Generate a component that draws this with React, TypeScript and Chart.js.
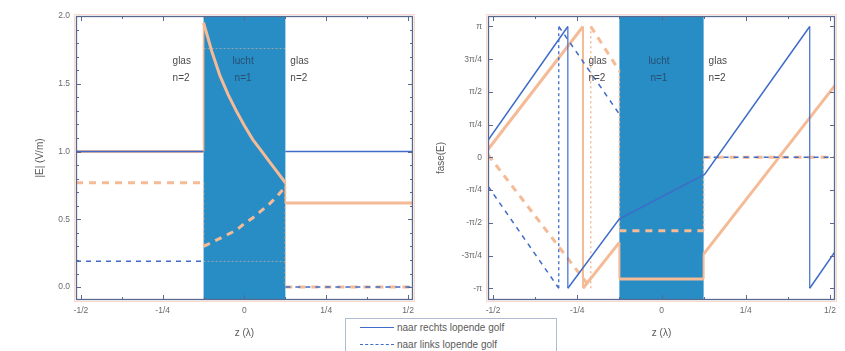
import React, { useEffect, useRef } from "react";
import { Chart, registerables } from "chart.js";

Chart.register(...registerables);

const FONT = "'Liberation Sans', Arial, sans-serif";

// ---- shared z axis (in wavelengths) ----
const zRange = [-0.515, 0.515];
const zTickValues = [-0.5, -0.25, 0, 0.25, 0.5];
const zTickLabels = ["-1/2", "-1/4", "0", "1/4", "1/2"];
const zMinorTicks = [-0.375, -0.125, 0.125, 0.375];
const airRegion = [-0.125, 0.125];

// ---- left panel: |E| (V/m) ----
const ampRange = [-0.095, 2.0];
const ampTickValues = [0, 0.5, 1, 1.5, 2];
const ampTickLabels = ["0.0", "0.5", "1.0", "1.5", "2.0"];
const ampMinorTicks = [0.1, 0.2, 0.3, 0.4, 0.6, 0.7, 0.8, 0.9, 1.1, 1.2, 1.3, 1.4, 1.6, 1.7, 1.8, 1.9];

const ampBlueRightZ = [-0.515, -0.125, null, 0.125, 0.515];
const ampBlueRightV = [1.0, 1.0, null, 1.0, 1.0];
const ampBlueLeftZ = [-0.515, -0.125, null, 0.125, 0.515];
const ampBlueLeftV = [0.19, 0.19, null, 0.0, 0.0];
const ampBlueAirZ = [-0.125, 0.125];
const ampBlueAirRightV = [1.76, 1.76];
const ampBlueAirLeftV = [0.19, 0.19];

const ampOrangeRightZ = [-0.515, -0.125, -0.125, -0.1, -0.075, -0.05, -0.025, 0, 0.025, 0.05, 0.075, 0.1, 0.125, 0.125, 0.515];
const ampOrangeRightV = [1.0, 1.0, 1.95, 1.74, 1.56, 1.42, 1.3, 1.19, 1.09, 1.01, 0.93, 0.85, 0.77, 0.62, 0.62];
const ampOrangeLeftZ = [-0.515, -0.125, -0.125, -0.1, -0.075, -0.05, -0.025, 0, 0.025, 0.05, 0.075, 0.1, 0.125, 0.125, 0.515];
const ampOrangeLeftV = [0.77, 0.77, 0.3, 0.33, 0.36, 0.39, 0.42, 0.47, 0.51, 0.56, 0.61, 0.67, 0.74, 0.0, 0.0];

// ---- right panel: fase(E) in units of π ----
const phRange = [-1.09, 1.08];
const phTickValues = [-1, -0.75, -0.5, -0.25, 0, 0.25, 0.5, 0.75, 1];
const phTickLabels = ["-π", "-3π/4", "-π/2", "-π/4", "0", "π/4", "π/2", "3π/4", "π"];
const phMinorTicks: number[] = [];

const phBlueRightZ = [-0.515, -0.278, -0.278, -0.125, 0.128, 0.44, 0.44, 0.515];
const phBlueRightV = [0.13, 1.0, -1.0, -0.47, -0.13, 1.0, -1.0, -0.72];
const phBlueLeftZ = [-0.515, -0.305, -0.305, -0.125, null, 0.125, 0.515];
const phBlueLeftV = [-0.22, -1.0, 1.0, 0.33, null, 0.0, 0.0];

const phOrangeRightZ = [-0.515, -0.233, -0.233, -0.125, -0.125, 0.125, 0.125, 0.515];
const phOrangeRightV = [0.06, 1.0, -1.0, -0.65, -0.93, -0.93, -0.74, 0.55];
const phOrangeLeftZ = [-0.515, -0.21, -0.21, -0.125, -0.125, 0.125, 0.125, 0.515];
const phOrangeLeftV = [0.02, -1.0, 1.0, 0.66, -0.56, -0.56, 0.0, 0.0];

// ---- texts ----
const regionGlass = ["glas", "n=2"];
const regionAir = ["lucht", "n=1"];
const legendLabels = ["naar rechts lopende golf", "naar links lopende golf"];

const BLUE = "rgb(62,108,200)";
const ORANGE = "rgb(245,186,150)";
const FILL = "rgb(40,141,196)";
const FRAME = "rgb(88,104,142)";
const TEXT = "#5a5a5a";

type P = { x: number; y: number | null };

// Split a polyline into its sloped/horizontal parts and its vertical jumps
function split(z: (number | null)[], v: (number | null)[]) {
  const main: P[] = [];
  const jumps: P[] = [];
  for (let i = 0; i < z.length; i++) {
    const x = z[i];
    const y = v[i];
    if (x == null || y == null) {
      main.push({ x: 0, y: null });
      continue;
    }
    main.push({ x, y });
    const nx = z[i + 1];
    const ny = v[i + 1];
    if (nx != null && ny != null && nx === x) {
      main.push({ x, y: null });
      jumps.push({ x, y }, { x, y: ny }, { x, y: null });
    }
  }
  return { main, jumps };
}

function line(data: any, color: string, width: number, dash: number[] = []) {
  return {
    data,
    borderColor: color,
    borderWidth: width,
    borderDash: dash,
    pointRadius: 0,
    tension: 0,
    spanGaps: false,
    fill: false,
  };
}

function series(z: (number | null)[], v: (number | null)[], color: string, width: number, jumpWidth: number, dash: number[], jumpDash: number[]) {
  const s = split(z, v);
  return [line(s.main, color, width, dash), line(s.jumps, color, jumpWidth, jumpDash)];
}

function decoPlugin(minorX: number[], minorY: number[]) {
  return {
    id: "deco",
    beforeDatasetsDraw(chart: any) {
      const { ctx, chartArea: a, scales } = chart;
      const x0 = scales.x.getPixelForValue(airRegion[0]);
      const x1 = scales.x.getPixelForValue(airRegion[1]);
      ctx.save();
      ctx.fillStyle = FILL;
      ctx.fillRect(x0, a.top, x1 - x0, a.bottom - a.top);
      ctx.restore();
    },
    afterDatasetsDraw(chart: any) {
      const { ctx, chartArea: a, scales } = chart;
      const xs = scales.x;
      const ys = scales.y;
      ctx.save();
      ctx.strokeStyle = "rgba(240,170,140,0.45)";
      ctx.lineWidth = 1;
      ctx.strokeRect(a.left - 1.5, a.top - 1.5, a.right - a.left + 3, a.bottom - a.top + 3);
      ctx.strokeStyle = FRAME;
      ctx.lineWidth = 1.3;
      ctx.strokeRect(a.left + 0.5, a.top + 0.5, a.right - a.left - 1, a.bottom - a.top - 1);
      ctx.lineWidth = 1;
      const tickX = (v: number, len: number) => {
        const p = Math.round(xs.getPixelForValue(v)) + 0.5;
        ctx.beginPath();
        ctx.moveTo(p, a.bottom);
        ctx.lineTo(p, a.bottom - len);
        ctx.moveTo(p, a.top);
        ctx.lineTo(p, a.top + len);
        ctx.stroke();
      };
      const tickY = (v: number, len: number) => {
        const p = Math.round(ys.getPixelForValue(v)) + 0.5;
        ctx.beginPath();
        ctx.moveTo(a.left, p);
        ctx.lineTo(a.left + len, p);
        ctx.moveTo(a.right, p);
        ctx.lineTo(a.right - len, p);
        ctx.stroke();
      };
      xs.ticks.forEach((t: any) => tickX(t.value, 5));
      minorX.forEach((v) => tickX(v, 3));
      ys.ticks.forEach((t: any) => tickY(t.value, 5));
      minorY.forEach((v) => tickY(v, 3));
      const xa = xs.getPixelForValue(airRegion[0]);
      const xb = xs.getPixelForValue(airRegion[1]);
      ctx.font = `10px ${FONT}`;
      ctx.textBaseline = "middle";
      ctx.textAlign = "left";
      const y1 = a.top + 45;
      const y2 = a.top + 62;
      ctx.fillStyle = "#4a4a4a";
      ctx.fillText(regionGlass[0], xa - 31, y1);
      ctx.fillText(regionGlass[1], xa - 31, y2);
      ctx.fillText(regionGlass[0], xb + 5, y1);
      ctx.fillText(regionGlass[1], xb + 5, y2);
      ctx.fillStyle = "rgba(40,62,95,0.8)";
      ctx.fillText(regionAir[0], xa + 29, y1);
      ctx.fillText(regionAir[1], xa + 31, y2);
      ctx.restore();
    },
  };
}

type PanelProps = {
  left: number;
  width: number;
  yWidth: number;
  padRight: number;
  yRange: number[];
  yTicks: number[];
  yLabels: string[];
  yMinor: number[];
  yTitle: string;
  yTitlePad: number;
  datasets: any[];
};

function Panel(p: PanelProps) {
  const ref = useRef<HTMLCanvasElement>(null);
  useEffect(() => {
    if (!ref.current) return;
    const tickFont = { size: 8.5, family: FONT };
    const chart = new Chart(ref.current, {
      type: "line",
      data: { datasets: p.datasets },
      options: {
        animation: false,
        responsive: false,
        devicePixelRatio: 1,
        layout: { padding: { left: 0, top: 16, right: p.padRight, bottom: 0 } },
        plugins: { legend: { display: false }, tooltip: { enabled: false } },
        scales: {
          x: {
            type: "linear",
            min: zRange[0],
            max: zRange[1],
            grid: { display: false, drawTicks: false },
            border: { display: false },
            afterBuildTicks: (s: any) => {
              s.ticks = zTickValues.map((v) => ({ value: v }));
            },
            afterFit: (s: any) => {
              s.height = 51;
            },
            ticks: {
              autoSkip: false,
              maxRotation: 0,
              padding: 6,
              color: "#6a6a6a",
              font: tickFont,
              callback: (v: any) => {
                const i = zTickValues.indexOf(Number(v));
                return i >= 0 ? zTickLabels[i] : "";
              },
            },
            title: {
              display: true,
              text: "z (λ)",
              color: TEXT,
              font: { size: 10, family: FONT },
              padding: { top: 0, bottom: 12 },
            },
          },
          y: {
            type: "linear",
            min: p.yRange[0],
            max: p.yRange[1],
            grid: { display: false, drawTicks: false },
            border: { display: false },
            afterBuildTicks: (s: any) => {
              s.ticks = p.yTicks.map((v) => ({ value: v }));
            },
            afterFit: (s: any) => {
              s.width = p.yWidth;
            },
            ticks: {
              autoSkip: false,
              padding: 6,
              color: "#6a6a6a",
              font: tickFont,
              callback: (v: any) => {
                const i = p.yTicks.indexOf(Number(v));
                return i >= 0 ? p.yLabels[i] : "";
              },
            },
            title: {
              display: true,
              text: p.yTitle,
              color: TEXT,
              font: { size: 10, family: FONT },
              padding: { top: p.yTitlePad, bottom: 0 },
            },
          },
        },
      },
      plugins: [decoPlugin(zMinorTicks, p.yMinor)],
    } as any);
    return () => chart.destroy();
  }, []);
  return (
    <canvas
      ref={ref}
      width={p.width}
      height={351}
      style={{ position: "absolute", left: p.left, top: 0, width: p.width, height: 351, display: "block" }}
    />
  );
}

export default function App() {
  const ampDatasets = [
    ...series(ampBlueRightZ, ampBlueRightV, BLUE, 1.5, 1.2, [], []),
    ...series(ampBlueLeftZ, ampBlueLeftV, BLUE, 1.5, 1.2, [5, 5], [3, 3]),
    line(ampBlueAirZ.map((x, i) => ({ x, y: ampBlueAirRightV[i] })), "rgba(250,190,160,0.55)", 1, [2, 2]),
    line(ampBlueAirZ.map((x, i) => ({ x, y: ampBlueAirLeftV[i] })), "rgba(250,190,160,0.55)", 1, [2, 2]),
    ...series(ampOrangeRightZ, ampOrangeRightV, ORANGE, 3, 1.6, [], []),
    ...series(ampOrangeLeftZ, ampOrangeLeftV, ORANGE, 3, 1.4, [7, 6], [2, 3]),
  ];
  const phDatasets = [
    ...series(phBlueRightZ, phBlueRightV, BLUE, 1.5, 1.2, [], []),
    ...series(phBlueLeftZ, phBlueLeftV, BLUE, 1.5, 1.3, [5, 5], [3, 3]),
    ...series(phOrangeRightZ, phOrangeRightV, ORANGE, 3, 2, [], []),
    ...series(phOrangeLeftZ, phOrangeLeftV, ORANGE, 3, 1.5, [7, 6], [2, 3]),
  ];
  return (
    <div style={{ position: "absolute", left: 0, top: 0, width: 845, height: 351, background: "#fff", overflow: "hidden" }}>
      <Panel
        left={0}
        width={420}
        yWidth={76}
        padRight={3}
        yRange={ampRange}
        yTicks={ampTickValues}
        yLabels={ampTickLabels}
        yMinor={ampMinorTicks}
        yTitle="|E| (V/m)"
        yTitlePad={34}
        datasets={ampDatasets}
      />
      <Panel
        left={420}
        width={425}
        yWidth={68}
        padRight={10}
        yRange={phRange}
        yTicks={phTickValues}
        yLabels={phTickLabels}
        yMinor={phMinorTicks}
        yTitle="fase(E)"
        yTitlePad={15}
        datasets={phDatasets}
      />
      <div
        style={{
          position: "absolute",
          left: 345,
          top: 318,
          width: 210,
          height: 45,
          border: "1px solid rgb(175,188,212)",
          background: "#fff",
          fontFamily: FONT,
          fontSize: 10,
          color: TEXT,
        }}
      >
        {legendLabels.map((t, i) => (
          <div key={t} style={{ position: "absolute", left: 14, top: 1 + i * 17, height: 14, display: "flex", alignItems: "center", whiteSpace: "nowrap" }}>
            <div
              style={{
                width: 34,
                height: 0,
                borderTop: `1.5px ${i === 0 ? "solid" : "dashed"} ${BLUE}`,
                marginRight: 3,
              }}
            />
            <span>{t}</span>
          </div>
        ))}
      </div>
    </div>
  );
}
